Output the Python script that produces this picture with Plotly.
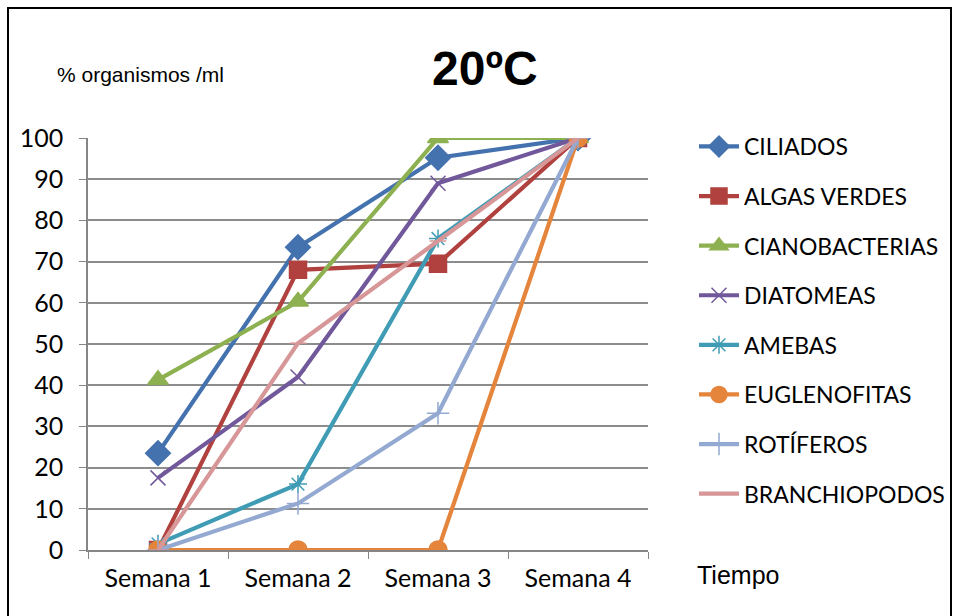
import plotly.graph_objects as go

weeks = ["Semana 1", "Semana 2", "Semana 3", "Semana 4"]
ciliados = [23.5, 73.5, 95.2, 100]
algas_verdes = [0, 68, 69.5, 100]
cianobacterias = [41.3, 60.3, 100, 100]
diatomeas = [17.5, 42, 89, 100]
amebas = [1.5, 16, 75.6, 100]
euglenofitas = [0, 0, 0, 100]
rotiferos = [0, 11.3, 33.2, 100]
branchiopodos = [0, 50.2, 75, 100]

series = [
    ("CILIADOS", ciliados, "#4472AE", "diamond", 19),
    ("ALGAS VERDES", algas_verdes, "#B0413E", "square", 17),
    ("CIANOBACTERIAS", cianobacterias, "#8DB050", "triangle-up", 18),
    ("DIATOMEAS", diatomeas, "#71589B", "x-thin-open", 15),
    ("AMEBAS", amebas, "#3F9CB4", "asterisk-open", 15),
    ("EUGLENOFITAS", euglenofitas, "#E5843B", "circle", 18),
    ("ROTÍFEROS", rotiferos, "#93A9D1", "cross-thin-open", 16),
    ("BRANCHIOPODOS", branchiopodos, "#D79697", "line-ew-open", 12),
]

fig = go.Figure()
for i, (name, vals, col, sym, sz) in enumerate(series):
    fig.add_trace(go.Scatter(
        x=weeks, y=vals, name=name, mode="lines+markers",
        line=dict(color=col, width=4.2),
        marker=dict(symbol=sym, size=sz, color=col,
                    line=dict(color=col, width=1.5)),
        legendgroup=str(i),
    ))

W, H = 958, 616
L, R, T, B = 88, 648, 138, 550
pw, ph = R - L, B - T

def px(x):
    return (x - L) / pw

def py(y):
    return (B - y) / ph

FONT = "Lato, Open Sans, sans-serif"

fig.update_layout(
    width=W, height=H,
    margin=dict(l=L, r=W - R, t=T, b=H - B, autoexpand=False),
    paper_bgcolor="white", plot_bgcolor="white",
    showlegend=True,
    legend=dict(
        x=px(694), y=py(125), xanchor="left", yanchor="top",
        font=dict(family=FONT, size=23, color="#000000"),
        tracegroupgap=16.7, itemwidth=40, bgcolor="rgba(0,0,0,0)",
        maxheight=480,
    ),
    font=dict(family=FONT, color="#000000"),
    xaxis=dict(
        type="category", range=[-0.5, 3.5],
        showgrid=False, showline=True, linecolor="#868686", linewidth=1.5,
        ticks="outside", tickson="boundaries", ticklen=7, tickcolor="#868686",
        tickfont=dict(size=25, family=FONT),
        zeroline=False, ticklabelstandoff=5,
    ),
    yaxis=dict(
        range=[0, 100], tickvals=list(range(0, 101, 10)),
        showgrid=True, gridcolor="#8C8C8C", gridwidth=1.5,
        showline=True, linecolor="#868686", linewidth=1.5,
        ticks="outside", ticklen=7, tickcolor="#868686",
        tickfont=dict(size=25, family=FONT),
        zeroline=False, ticklabelstandoff=11,
    ),
    annotations=[
        dict(text="<b>20ºC</b>", x=px(485), y=py(69), xref="paper", yref="paper",
             xanchor="center", yanchor="middle",
             showarrow=False, font=dict(family="Liberation Sans, Arial", size=48)),
        dict(text="% organismos /ml", x=px(140), y=py(75), xref="paper", yref="paper",
             xanchor="center", yanchor="middle",
             showarrow=False, font=dict(family="Liberation Sans Narrow, Liberation Sans", size=21)),
        dict(text="Tiempo", x=px(738), y=py(575), xref="paper", yref="paper",
             xanchor="center", yanchor="middle",
             showarrow=False, font=dict(family="Liberation Sans, Arial", size=25)),
    ],
    shapes=[
        dict(type="rect", xref="paper", yref="paper",
             x0=px(8), x1=px(951), y0=py(630), y1=py(8),
             line=dict(color="#000000", width=2), fillcolor="rgba(0,0,0,0)", layer="below"),
    ],
)

fig.write_html("out.html")
